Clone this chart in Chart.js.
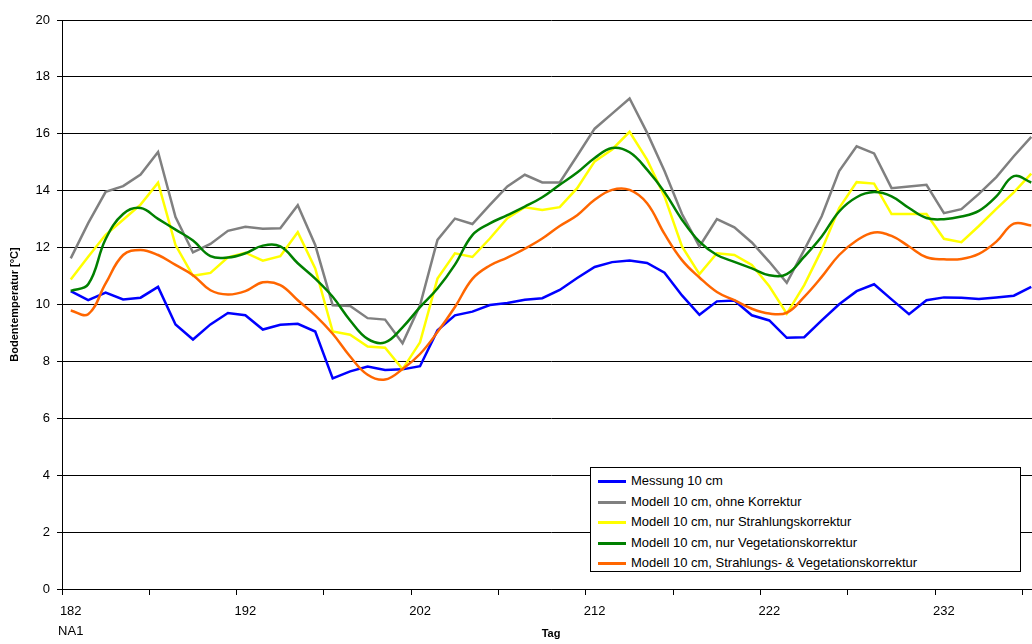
<!DOCTYPE html>
<html>
<head>
<meta charset="utf-8">
<script src="https://cdn.jsdelivr.net/npm/chart.js@4.4.1/dist/chart.umd.min.js"></script>
<style>
    html, body { margin: 0; padding: 0; background: #fff; overflow: hidden; }
    #wrap { position: relative; width: 1032px; height: 644px; overflow: hidden; }
    #chart { position: absolute; left: 0; top: 0; }
    #legend {
        position: absolute; left: 590px; top: 467px; width: 431px; height: 105px;
        background: #fff; border: 1px solid #000;
        font-family: Arial, "Liberation Sans", sans-serif; font-size: 13px; color: #000;
        padding-top: 3px; box-sizing: border-box;
    }
    .item { height: 20.5px; line-height: 20.5px; white-space: nowrap; }
    .swatch { display: inline-block; width: 28px; height: 3px; margin: 0 5px 0 7px; vertical-align: middle; }
</style>
</head>
<body>
<div id="wrap">
    <canvas id="chart" width="1045" height="644"></canvas>
    <div id="legend"></div>
</div>
<script>
// Tag 182 .. 237
const days = [182, 183, 184, 185, 186, 187, 188, 189, 190, 191,
    192, 193, 194, 195, 196, 197, 198, 199, 200, 201,
    202, 203, 204, 205, 206, 207, 208, 209, 210, 211,
    212, 213, 214, 215, 216, 217, 218, 219, 220, 221,
    222, 223, 224, 225, 226, 227, 228, 229, 230, 231,
    232, 233, 234, 235, 236, 237];
const stationLabel = 'NA1';

const messung = [10.47, 10.15, 10.42, 10.18, 10.24, 10.62, 9.30, 8.77, 9.30, 9.70,
    9.62, 9.12, 9.29, 9.32, 9.05, 7.40, 7.65, 7.82, 7.70, 7.72,
    7.83, 9.09, 9.62, 9.75, 9.98, 10.05, 10.17, 10.22, 10.51, 10.93,
    11.32, 11.49, 11.55, 11.46, 11.12, 10.32, 9.64, 10.11, 10.14, 9.62,
    9.44, 8.83, 8.85, 9.44, 10.01, 10.47, 10.71, 10.18, 9.66, 10.15,
    10.25, 10.24, 10.19, 10.25, 10.31, 10.62];

const ohneKorrektur = [11.62, 12.86, 13.96, 14.16, 14.57, 15.36, 13.07, 11.83, 12.13, 12.59,
    12.73, 12.66, 12.68, 13.49, 12.09, 9.97, 9.95, 9.52, 9.47, 8.64,
    9.97, 12.27, 13.02, 12.83, 13.50, 14.15, 14.56, 14.29, 14.29, 15.23,
    16.18, 16.71, 17.24, 16.04, 14.69, 13.18, 12.04, 13.00, 12.71, 12.18,
    11.50, 10.76, 11.92, 13.10, 14.69, 15.56, 15.31, 14.09, 14.15, 14.21,
    13.21, 13.35, 13.89, 14.48, 15.21, 15.89];

const strahlung = [10.88, 11.68, 12.45, 12.98, 13.51, 14.28, 12.09, 11.01, 11.11, 11.66,
    11.82, 11.54, 11.70, 12.54, 11.27, 9.05, 8.94, 8.52, 8.48, 7.73,
    8.67, 10.91, 11.80, 11.67, 12.32, 13.03, 13.42, 13.32, 13.42, 14.09,
    15.03, 15.45, 16.07, 15.09, 13.80, 12.04, 11.07, 11.80, 11.74, 11.39,
    10.64, 9.68, 10.68, 11.92, 13.39, 14.30, 14.25, 13.18, 13.18, 13.18,
    12.31, 12.19, 12.76, 13.36, 13.94, 14.60];

const vegetation = [10.48, 10.71, 12.30, 13.18, 13.39, 13.01, 12.63, 12.25, 11.70, 11.65,
    11.80, 12.07, 12.04, 11.45, 10.91, 10.27, 9.44, 8.79, 8.67, 9.20,
    9.91, 10.56, 11.40, 12.44, 12.85, 13.14, 13.44, 13.77, 14.21, 14.64,
    15.15, 15.50, 15.35, 14.74, 13.95, 12.98, 12.21, 11.74, 11.50, 11.27,
    11.03, 11.07, 11.68, 12.39, 13.27, 13.77, 13.95, 13.80, 13.39, 13.04,
    13.00, 13.09, 13.29, 13.80, 14.51, 14.29];

const strahlungVegetation = [9.79, 9.66, 10.74, 11.74, 11.92, 11.74, 11.39, 11.03, 10.50, 10.35,
    10.47, 10.78, 10.68, 10.15, 9.62, 8.97, 8.17, 7.53, 7.36, 7.73,
    8.26, 9.03, 9.91, 10.90, 11.37, 11.65, 11.96, 12.32, 12.76, 13.14,
    13.68, 14.03, 14.03, 13.56, 12.48, 11.56, 10.95, 10.44, 10.15, 9.85,
    9.68, 9.71, 10.27, 10.97, 11.74, 12.25, 12.53, 12.41, 12.04, 11.66,
    11.59, 11.60, 11.78, 12.21, 12.84, 12.78];

const seriesNames = [
    'Messung 10 cm',
    'Modell 10 cm, ohne Korrektur',
    'Modell 10 cm, nur Strahlungskorrektur',
    'Modell 10 cm, nur Vegetationskorrektur',
    'Modell 10 cm, Strahlungs- & Vegetationskorrektur'
];
const seriesColors = ['#0000ff', '#808080', '#ffff00', '#008000', '#ff6600'];
const seriesData = [messung, ohneKorrektur, strahlung, vegetation, strahlungVegetation];
const seriesSmooth = [false, false, false, true, true];

const fontFamily = 'Arial, "Liberation Sans", sans-serif';

const datasets = seriesData.map((data, i) => ({
    label: seriesNames[i],
    data: data,
    borderColor: seriesColors[i],
    backgroundColor: seriesColors[i],
    borderWidth: 2.5,
    pointRadius: 0,
    tension: seriesSmooth[i] ? 0.4 : 0,
    fill: false,
    order: seriesData.length - i
}));

new Chart(document.getElementById('chart'), {
    type: 'line',
    data: { labels: days, datasets: datasets },
    options: {
        responsive: false,
        animation: false,
        devicePixelRatio: 1,
        layout: { padding: { top: 20, right: 5, bottom: 0, left: 0 } },
        plugins: {
            legend: { display: false },
            tooltip: { enabled: false }
        },
        scales: {
            x: {
                type: 'category',
                offset: true,
                afterFit: (scale) => { scale.height = 55; },
                grid: {
                    offset: true,
                    drawOnChartArea: false,
                    drawTicks: true,
                    tickLength: 6,
                    color: (ctx) => (ctx.index % 5 === 0 ? '#000' : 'rgba(0,0,0,0)')
                },
                border: { display: true, color: '#000', width: 1 },
                ticks: {
                    autoSkip: false,
                    maxRotation: 0,
                    minRotation: 0,
                    padding: 7,
                    color: '#000',
                    font: { family: fontFamily, size: 13, lineHeight: 1.5 },
                    callback: function (val, i) {
                        if (i % 10 !== 0) return '';
                        const lbl = String(this.getLabelForValue(val));
                        return i === 0 ? [lbl, stationLabel] : lbl;
                    }
                },
                title: {
                    display: true,
                    text: 'Tag',
                    color: '#000',
                    font: { family: fontFamily, size: 11, weight: 'bold' },
                    padding: { top: 0, bottom: 3 }
                }
            },
            y: {
                min: 0,
                max: 20,
                afterFit: (scale) => { scale.width = 62; },
                grid: {
                    color: '#000',
                    lineWidth: 1,
                    drawTicks: true,
                    tickLength: 5
                },
                border: { display: true, color: '#000', width: 1 },
                ticks: {
                    stepSize: 2,
                    padding: 7,
                    color: '#000',
                    font: { family: fontFamily, size: 13 }
                },
                title: {
                    display: true,
                    text: 'Bodentemperatur [°C]',
                    color: '#000',
                    font: { family: fontFamily, size: 11, weight: 'bold' },
                    padding: { top: 8, bottom: 0 }
                }
            }
        }
    }
});

// Legend box inside the plot area
const legendEl = document.getElementById('legend');
legendEl.innerHTML = seriesNames.map((name, i) =>
    `<div class="item"><span class="swatch" style="background:${seriesColors[i]}"></span>${name}</div>`
).join('');
</script>
</body>
</html>
